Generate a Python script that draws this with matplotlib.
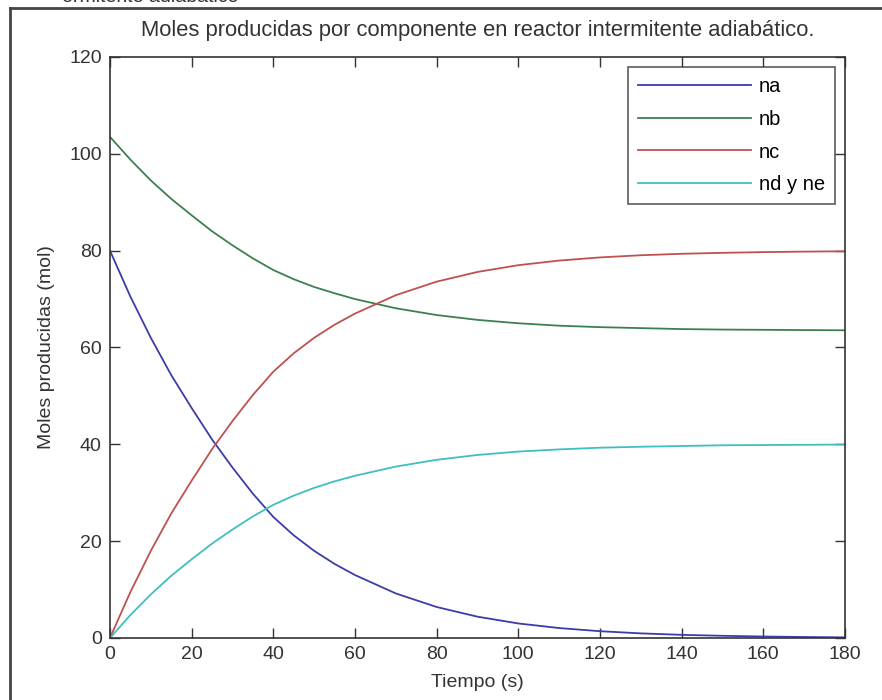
# Moles producidas por componente en reactor intermitente adiabatico

import numpy as np
import matplotlib.pyplot as plt

plt.rcParams['font.family'] = ['Liberation Sans', 'DejaVu Sans']

# 1. Datos
t = [0, 5, 10, 15, 20, 25, 30, 35, 40, 45, 50, 55, 60,
     70, 80, 90, 100, 110, 120, 130, 140, 150, 160, 170, 180]
na = [80, 70.5, 62, 54.3, 47.5, 41, 35.2, 29.8, 25.0, 21.2, 18.0, 15.3, 13.0,
      9.2, 6.4, 4.4, 3.0, 2.05, 1.4, 0.95, 0.65, 0.45, 0.3, 0.2, 0.13]
nb = [103.5, 98.8, 94.5, 90.7, 87.3, 84.0, 81.1, 78.4, 76.0, 74.1, 72.5, 71.2, 70.0,
      68.1, 66.7, 65.7, 65.0, 64.5, 64.2, 64.0, 63.8, 63.7, 63.65, 63.6, 63.55]
nc = [0, 9.5, 18, 25.7, 32.5, 39, 44.8, 50.2, 55.0, 58.8, 62.0, 64.7, 67.0,
      70.8, 73.6, 75.6, 77.0, 77.95, 78.6, 79.05, 79.35, 79.55, 79.7, 79.8, 79.87]
nd = [0, 4.75, 9.0, 12.85, 16.25, 19.5, 22.4, 25.1, 27.5, 29.4, 31.0, 32.35, 33.5,
      35.4, 36.8, 37.8, 38.5, 38.95, 39.3, 39.5, 39.65, 39.8, 39.85, 39.9, 39.95]

labels = ['na', 'nb', 'nc', 'nd y ne']
colors = ['#3c3caa', '#3d8050', '#c05050', '#3fbfbf']

# 2. Figura
fig = plt.figure(figsize=(8.82, 7.0), dpi=100)
ax = fig.add_axes([0.1247, 0.0886, 0.8333, 0.83])

for y, lab, c in zip([na, nb, nc, nd], labels, colors):
    ax.plot(t, y, color=c, linewidth=1.3, label=lab)

ax.set_xlim(0, 180)
ax.set_ylim(0, 120)
ax.set_xticks(np.arange(0, 181, 20))
ax.set_yticks(np.arange(0, 121, 20))
ax.tick_params(direction='in', length=7, width=1, top=True, right=True,
               labelsize=14, colors='#333333', pad=6)
for s in ax.spines.values():
    s.set_color('#333333')
    s.set_linewidth(1.2)

ax.set_title('Moles producidas por componente en reactor intermitente adiabático.',
             fontsize=15.8, color='#333333', pad=15)
ax.set_xlabel('Tiempo (s)', fontsize=14, color='#333333', labelpad=8)
ax.set_ylabel('Moles producidas (mol)', fontsize=14, color='#333333', labelpad=10)

leg = ax.legend(loc='upper right', fontsize=14.5, fancybox=False, handlelength=5.6,
                borderaxespad=0.5, labelspacing=0.68, handletextpad=0.4,
                borderpad=0.5)
leg.get_frame().set_edgecolor('#333333')
leg.get_frame().set_linewidth(1.2)

# 3. Marco de la captura y texto cortado arriba
fig.add_artist(plt.Line2D([10 / 882, 10 / 882], [0, 1 - 8 / 700],
                          transform=fig.transFigure, color='#444444', linewidth=2))
fig.add_artist(plt.Line2D([10 / 882, 1], [1 - 8 / 700, 1 - 8 / 700],
                          transform=fig.transFigure, color='#444444', linewidth=2))
fig.text(62 / 882, 1 - 2 / 700, 'ermitente adiabático', fontsize=14,
         color='#333333', va='baseline')

# 4. Guardar
fig.savefig('out.png', dpi=100)
